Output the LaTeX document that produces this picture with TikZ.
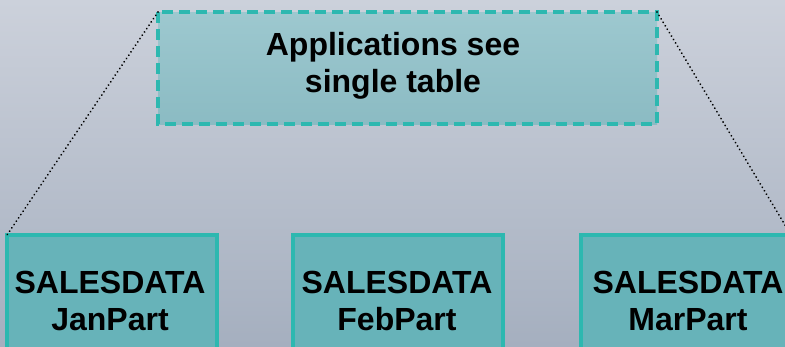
\documentclass[tikz,border=0pt]{standalone}
\usepackage{fontspec}
\setmainfont{Liberation Sans}
\definecolor{bgtop}{HTML}{CCD1DB}
\definecolor{bgbot}{HTML}{A5AFBF}
\definecolor{viewtop}{HTML}{9DC8CF}
\definecolor{viewbot}{HTML}{8BBBC3}
\definecolor{partfill}{HTML}{67B3B9}
\definecolor{tealedge}{HTML}{2DB8B0}
\tikzset{
  viewbox/.style={draw=tealedge, line width=3.5pt, dash pattern=on 11pt off 6pt,
    top color=viewtop, bottom color=viewbot},
  partbox/.style={draw=tealedge, line width=4pt, fill=partfill},
  boxtext/.style={font=\bfseries\fontsize{32}{37}\selectfont, align=center},
  link/.style={line width=2pt, dash pattern=on 0.01pt off 4pt, line cap=round, black}
}
\begin{document}
\begin{tikzpicture}[x=1pt,y=-1pt]
  \useasboundingbox (0,0) rectangle (785,346);
  \clip (0,0) rectangle (785,346);
  \shade[top color=bgtop, bottom color=bgbot] (0,0) rectangle (785,346);

  % partition tables
  \draw[partbox] (7,235) rectangle (217,370);
  \draw[partbox] (293,235) rectangle (503,370);
  \draw[partbox] (581,235) rectangle (791,370);
  \coordinate (janTL) at (7,235);
  \coordinate (marTR) at (791,235);

  % the single logical table
  \draw[viewbox] (158,12) rectangle (657,124);
  \coordinate (viewTL) at (158,12);
  \coordinate (viewTR) at (657,12);

  \node[boxtext] (view) at (393,66) {Applications see\\single table};
  \node[boxtext] (jan) at (110,301) {SALESDATA\\JanPart};
  \node[boxtext] (feb) at (397,301) {SALESDATA\\FebPart};
  \node[boxtext] (mar) at (688,301) {SALESDATA\\MarPart};

  % dotted links from view corners to outer partitions
  \draw[link] (viewTL) -- (janTL);
  \draw[link] (viewTR) -- (marTR);
\end{tikzpicture}
\end{document}
